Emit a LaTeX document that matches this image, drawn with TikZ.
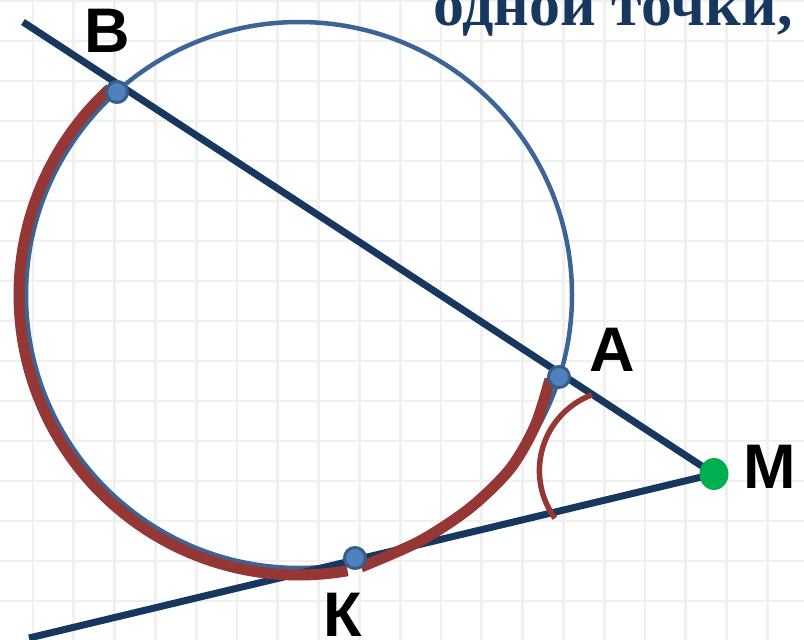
\documentclass[tikz,border=0pt]{standalone}
\usepackage{fontspec}
\setmainfont{Liberation Sans}
\newfontfamily\serifbold{Liberation Serif}
\definecolor{navy}{RGB}{23,55,94}
\definecolor{circblue}{RGB}{60,100,150}
\definecolor{redarc}{RGB}{149,55,53}
\definecolor{dotfill}{RGB}{79,129,189}
\definecolor{dotline}{RGB}{56,93,138}
\definecolor{greendot}{RGB}{0,176,80}
\tikzset{
  gridline/.style={draw=black!6, line width=2.8},
  circline/.style={draw=circblue, line width=4.5},
  navyline/.style={draw=navy, line width=7},
  redline/.style={draw=redarc, line width=11},
  anglearc/.style={draw=redarc, line width=5.5},
  bluedot/.style={circle, fill=dotfill, draw=dotline, line width=3, minimum size=21, inner sep=0},
  greenpt/.style={ellipse, fill=greendot, minimum width=29, minimum height=32, inner sep=0},
  lbl/.style={inner sep=0, font=\bfseries\fontsize{63}{70}\selectfont}
}
\usetikzlibrary{shapes.geometric}
\begin{document}
\begin{tikzpicture}[x=1pt,y=-1pt]
\useasboundingbox (0,0) rectangle (804,640);
\fill[white] (0,0) rectangle (804,640);
\foreach \i in {0,...,19} \draw[gridline] ({33+40.8*(\i-1)},0) -- ++(0,640);
\foreach \j in {0,...,16} \draw[gridline] (0,{1+40*\j}) -- ++(804,0);
\coordinate (O) at (299,295);
\coordinate (S1) at (23,22);
\coordinate (S2) at (29,638);
\coordinate (m) at (714,474);
\coordinate (a) at (559,377);
\coordinate (b) at (117,92);
\coordinate (k) at (355,558);
\draw[circline] (O) circle[radius=273];
\draw[navyline] (S1) -- (m);
\draw[navyline] (S2) -- (m);
\draw[redline] plot[domain=227.5:80, samples=80] ({299+280*cos(\x)},{295+280*sin(\x)});
\draw[redline] plot[smooth] coordinates {(361,567) (420,541) (470,508) (510,469) (535,426) (550,379)};
\draw[anglearc] plot[domain=249.4:144, samples=40] ({620.4+81*cos(\x)},{470.6+81*sin(\x)});
\node[bluedot] (B) at (b) {};
\node[bluedot] (A) at (a) {};
\node[bluedot] (K) at (k) {};
\node[greenpt] (M) at (m) {};
\node[lbl] (lB) at (107,31) {В};
\node[lbl] (lA) at (612,350) {А};
\node[lbl] (lM) at (770,467) {М};
\node[lbl] (lK) at (343,615) {К};
\node[anchor=base west, inner sep=0, text=navy, font=\serifbold\bfseries\fontsize{62}{70}\selectfont] (t) at (433,25) {одной точки,};
\end{tikzpicture}
\end{document}
